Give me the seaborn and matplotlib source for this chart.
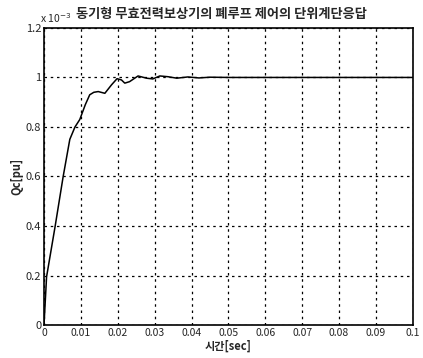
import numpy as np
import pandas as pd
import matplotlib
matplotlib.use("Agg")
import matplotlib.pyplot as plt
import seaborn as sns

# step response (Qc in units of 1e-3 pu)
time_sec = [0, 0.0007, 0.003, 0.0052, 0.007, 0.0084, 0.0097, 0.0112, 0.0124, 0.0135,
            0.0147, 0.0165, 0.0183, 0.0198, 0.0210, 0.0219, 0.0232, 0.0255, 0.0278,
            0.0295, 0.0314, 0.0336, 0.036, 0.039, 0.042, 0.045, 0.05, 0.06, 0.07,
            0.08, 0.09, 0.1]
qc_milli = [0, 0.195, 0.397, 0.6, 0.75, 0.80, 0.83, 0.89, 0.93, 0.94,
            0.943, 0.936, 0.97, 0.995, 0.99, 0.977, 0.983, 1.006, 0.997,
            0.994, 1.006, 1.003, 0.997, 1.002, 0.998, 1.001, 1.0, 1.0, 1.0,
            1.0, 1.0, 1.0]

x_ticks = [0, 0.01, 0.02, 0.03, 0.04, 0.05, 0.06, 0.07, 0.08, 0.09, 0.1]
x_labels = ["0", "0.01", "0.02", "0.03", "0.04", "0.05", "0.06", "0.07", "0.08", "0.09", "0.1"]
y_ticks = [0, 0.2, 0.4, 0.6, 0.8, 1.0, 1.2]
y_labels = ["0", "0.2", "0.4", "0.6", "0.8", "1", "1.2"]

title = "동기형 무효전력보상기의 폐루프 제어의 단위계단응답"

sns.set_style("white")
plt.rcParams['font.family'] = ['Noto Sans CJK KR', 'DejaVu Sans']

df = pd.DataFrame({'t': time_sec, 'qc': np.array(qc_milli)})

fig = plt.figure(figsize=(4.23, 3.58), dpi=100)
ax = fig.add_axes([0.104, 0.092, 0.872, 0.830])

sns.lineplot(data=df, x='t', y='qc', color='black', linewidth=1.1, ax=ax)

ax.set_xlim(0, 0.1)
ax.set_ylim(0, 1.2)
ax.set_xticks(x_ticks)
ax.set_xticklabels(x_labels, fontsize=7.5)
ax.set_yticks(y_ticks)
ax.set_yticklabels(y_labels, fontsize=8)
ax.tick_params(direction='in', length=3, pad=2, color='black')

ax.grid(True, linestyle=(0, (2, 3)), color='black', linewidth=0.9)
for s in ax.spines.values():
    s.set_color('black')
    s.set_linewidth(1.2)

ax.set_xlabel("시간[sec]", fontsize=8, labelpad=1, fontweight='bold')
ax.set_ylabel("Qc[pu]", fontsize=8, labelpad=2, fontweight='bold')
ax.set_title(title, fontsize=9.5, fontweight='bold', pad=7, x=0.48)
ax.text(-0.01, 1.01, r"x 10$^{-3}$", transform=ax.transAxes, fontsize=7.5, va='bottom', ha='left')

fig.savefig("out.png", dpi=100)
